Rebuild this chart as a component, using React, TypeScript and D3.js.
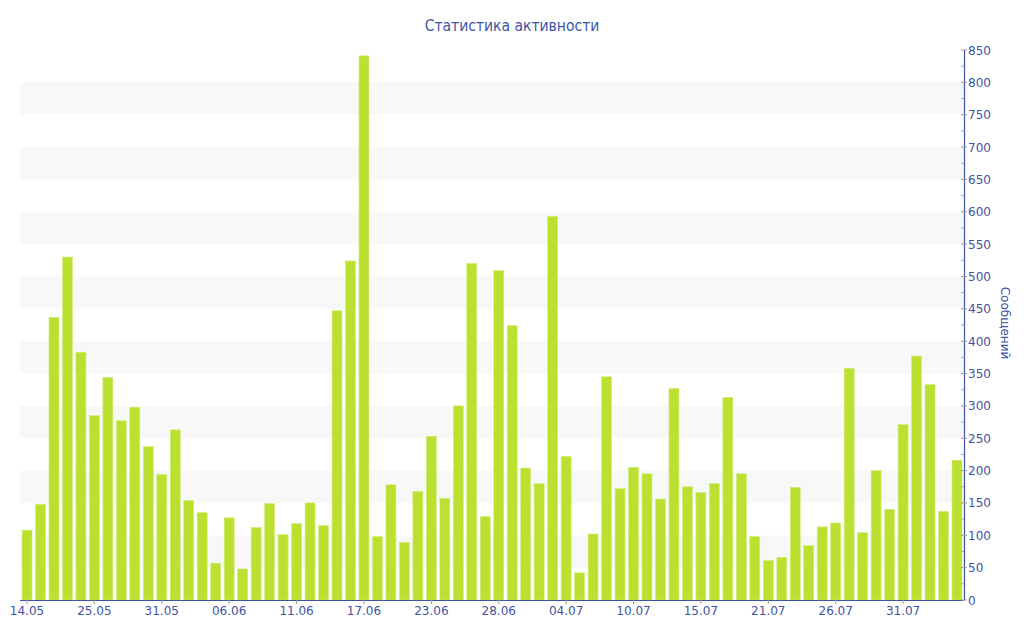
import React from "react";
import * as d3 from "d3";

const dates: string[] = [
  "14.05", "16.05", "18.05", "20.05", "22.05", "25.05",
  "26.05", "27.05", "28.05", "29.05", "31.05",
  "01.06", "02.06", "03.06", "04.06", "06.06",
  "07.06", "08.06", "09.06", "10.06", "11.06",
  "12.06", "13.06", "14.06", "15.06", "17.06",
  "18.06", "19.06", "20.06", "21.06", "23.06",
  "24.06", "25.06", "26.06", "27.06", "28.06",
  "29.06", "30.06", "01.07", "02.07", "04.07",
  "05.07", "06.07", "07.07", "08.07", "10.07",
  "11.07", "12.07", "13.07", "14.07", "15.07",
  "16.07", "17.07", "18.07", "19.07", "21.07",
  "22.07", "23.07", "24.07", "25.07", "26.07",
  "27.07", "28.07", "29.07", "30.07", "31.07",
  "01.08", "02.08", "03.08", "04.08",
];

const messages: number[] = [
  108, 148, 437, 530, 383, 285, 344, 277, 298, 237,
  194, 263, 154, 135, 57, 127, 48, 112, 149, 101,
  118, 150, 115, 447, 524, 841, 98, 178, 89, 168,
  253, 157, 300, 520, 129, 509, 424, 204, 180, 593,
  222, 42, 102, 345, 172, 205, 195, 156, 327, 175,
  166, 180, 313, 195, 98, 61, 66, 174, 84, 113,
  119, 358, 104, 200, 140, 271, 377, 333, 137, 216,
];

const yMajorTicks: number[] = d3.range(0, 851, 50);
const yMinorTicks: number[] = d3.range(25, 850, 50);
const bandStarts: number[] = d3.range(50, 800, 100);

const title = "Статистика активности";
const yTitle = "Сообщений";

export default function App() {
  const W = 1024;
  const H = 640;
  const left = 20;
  const right = 964;
  const top = 50;
  const bottom = 600;
  const axisColor = "#3e54a3";
  const font = "'DejaVu Sans', Verdana, sans-serif";

  const x = d3
    .scaleBand<string>()
    .domain(dates)
    .range([left, right])
    .paddingInner(0.26)
    .paddingOuter(0.15);
  const y = d3.scaleLinear().domain([0, 850]).range([bottom, top]);

  const tickIdx = dates.map((_, i) => i).filter((i) => i % 5 === 0);

  return (
    <svg
      width={W}
      height={H}
      style={{ position: "absolute", left: 0, top: 0, background: "#fff" }}
    >
      {bandStarts.map((v) => (
        <rect
          key={"band" + v}
          x={left}
          width={right - left}
          y={y(v + 50)}
          height={y(v) - y(v + 50)}
          fill="#f8f8f8"
        />
      ))}
      {messages.map((v, i) => (
        <rect
          key={"bar" + i}
          x={x(dates[i])!}
          width={x.bandwidth()}
          y={y(v)}
          height={y(0) - y(v)}
          fill="#bce030"
          stroke="#d2ec7a"
          strokeWidth={0.6}
        />
      ))}
      <text
        x={512}
        y={31}
        textAnchor="middle"
        fontFamily="'DejaVu Sans Condensed', 'DejaVu Sans', sans-serif"
        fontSize={15.5}
        fill={axisColor}
      >
        {title}
      </text>
      {/* x axis */}
      <line x1={left} x2={right} y1={bottom + 0.5} y2={bottom + 0.5} stroke={axisColor} strokeWidth={1.2} />
      {tickIdx.map((i) => {
        const cx = x(dates[i])! + x.bandwidth() / 2;
        return (
          <g key={"xt" + i}>
            <line x1={cx} x2={cx} y1={bottom} y2={bottom + 4} stroke="#999" />
            <text
              x={cx}
              y={bottom + 15}
              textAnchor="middle"
              fontFamily={font}
              fontSize={12}
              fill={axisColor}
            >
              {dates[i]}
            </text>
          </g>
        );
      })}
      {/* y axis on right */}
      <line x1={right + 0.5} x2={right + 0.5} y1={top} y2={bottom} stroke={axisColor} strokeWidth={1.2} />
      {yMinorTicks.map((v) => (
        <line key={"mn" + v} x1={right - 3} x2={right} y1={y(v)} y2={y(v)} stroke="#aaa" />
      ))}
      {yMajorTicks.map((v) => (
        <g key={"yt" + v}>
          <line x1={right - 3} x2={right + 3} y1={y(v)} y2={y(v)} stroke="#999" />
          <text
            x={right + 4}
            y={y(v) + 4.5}
            textAnchor="start"
            fontFamily={font}
            fontSize={12}
            fill={axisColor}
          >
            {v}
          </text>
        </g>
      ))}
      <text
        transform={`translate(1001, 323) rotate(90)`}
        textAnchor="middle"
        fontFamily={font}
        fontSize={12}
        fill={axisColor}
      >
        {yTitle}
      </text>
    </svg>
  );
}
